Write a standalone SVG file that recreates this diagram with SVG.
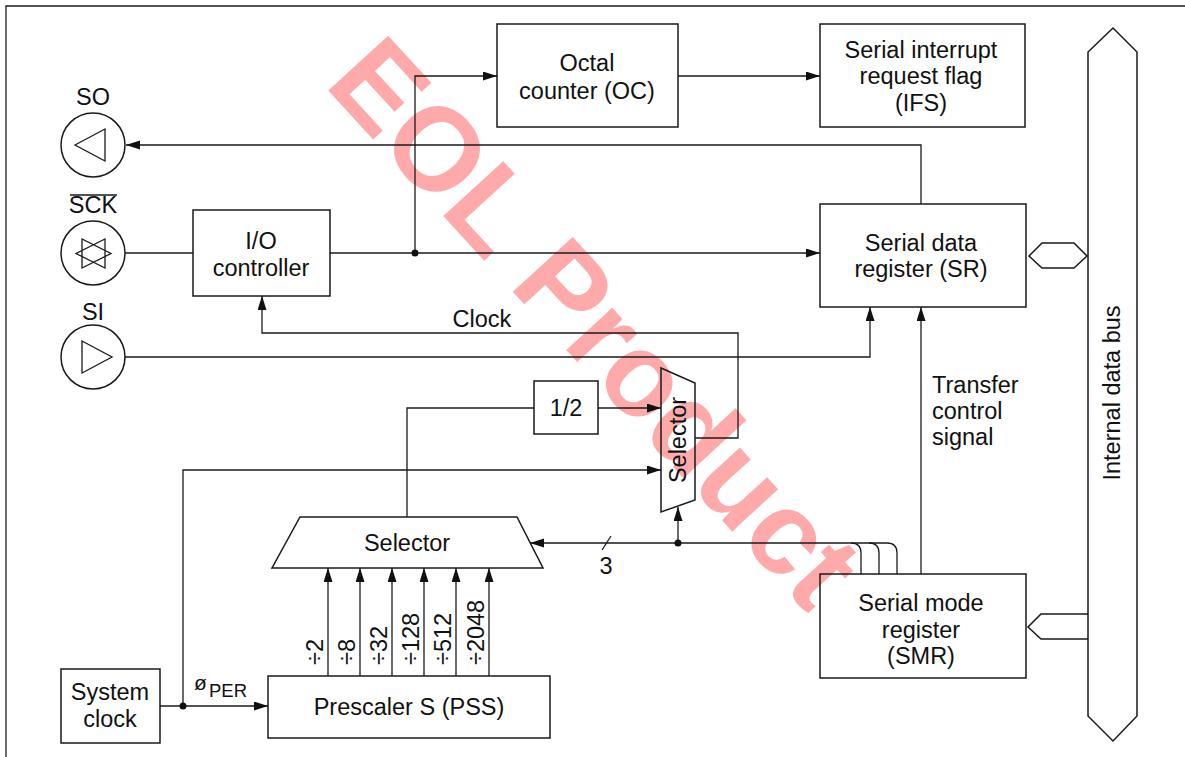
<svg xmlns="http://www.w3.org/2000/svg" width="1185" height="757" viewBox="0 0 1185 757">
<style>
.box{fill:none;stroke:#1a1a1a;stroke-width:1.5}
.ln{fill:none;stroke:#1a1a1a;stroke-width:1.3}
.t{font-family:"Liberation Sans",Arial,sans-serif;font-size:23.5px;fill:#111}
.c{text-anchor:middle}
.dot{fill:#111}
</style>
<defs>
<marker id="ar" markerUnits="userSpaceOnUse" markerWidth="15" markerHeight="10" refX="14" refY="4.5" orient="auto">
<path d="M0,0 L14,4.5 L0,9 z" fill="#111"/>
</marker>
</defs>
<rect width="1185" height="757" fill="#fff"/>
<text x="0" y="0" transform="translate(596,322) rotate(47.5)" text-anchor="middle" dominant-baseline="central" font-family="Liberation Sans,Arial,sans-serif" font-weight="bold" font-size="118" fill="#ffaaaa">EOL Product</text>
<path class="ln" d="M6,757 V6 H1185" stroke-width="2"/>

<g id="so"><circle class="box" cx="93" cy="145" r="32"/><path class="ln" d="M75,145 L105,129 L105,161 Z"/><text class="t c" x="93" y="105">SO</text></g>
<g id="sck"><circle class="box" cx="93" cy="253" r="32"/><path class="ln" d="M82,239 L82,268 L111,253.5 Z M105,239 L105,268 L76,253.5 Z"/><text class="t c" x="93" y="213">SCK</text><line class="ln" x1="70" y1="195" x2="117" y2="195"/></g>
<g id="si"><circle class="box" cx="93" cy="357" r="32"/><path class="ln" d="M82,341 L82,373 L112,357 Z"/><text class="t c" x="93" y="320">SI</text></g>

<g id="io"><rect class="box" x="193" y="210" width="137" height="86"/><text class="t c" x="261" y="249">I/O</text><text class="t c" x="261" y="276">controller</text></g>
<g id="oc"><rect class="box" x="497" y="24" width="181" height="103"/><text class="t c" x="587" y="71">Octal</text><text class="t c" x="587" y="99">counter (OC)</text></g>
<g id="ifs"><rect class="box" x="820" y="24" width="205" height="103"/><text class="t c" x="921" y="58">Serial interrupt</text><text class="t c" x="921" y="84">request flag</text><text class="t c" x="921" y="111">(IFS)</text></g>
<g id="sr"><rect class="box" x="820" y="204" width="206" height="103"/><text class="t c" x="921" y="251">Serial data</text><text class="t c" x="921" y="277">register (SR)</text></g>
<g id="smr"><rect class="box" x="820" y="574" width="206" height="104"/><text class="t c" x="921" y="611">Serial mode</text><text class="t c" x="921" y="638">register</text><text class="t c" x="921" y="664">(SMR)</text></g>
<g id="half"><rect class="box" x="534" y="381" width="64" height="53"/><text class="t c" x="566" y="416">1/2</text></g>
<g id="sel2"><path class="box" d="M661,368 L695,383 L695,500 L661,512 Z"/><text class="t c" transform="translate(686,440) rotate(-90)" x="0" y="0">Selector</text></g>
<g id="sel1"><path class="box" d="M300,517 L517,517 L543,568 L272,568 Z"/><text class="t c" x="407" y="551">Selector</text></g>
<g id="pss"><rect class="box" x="268" y="676" width="282" height="62"/><text class="t c" x="409" y="715">Prescaler S (PSS)</text></g>
<g id="sysclk"><rect class="box" x="61" y="669" width="99" height="74"/><text class="t c" x="110" y="700">System</text><text class="t c" x="110" y="727">clock</text></g>
<g id="bus"><path class="box" d="M1113,28 L1137,52 L1137,716 L1113,741 L1088,716 L1088,52 Z"/><text class="t c" transform="translate(1120,393) rotate(-90)" x="0" y="0">Internal data bus</text></g>

<g id="connectors">
<path class="ln" d="M921,204 V145 H126" marker-end="url(#ar)"/>
<path class="ln" d="M125,253 H193"/>
<path class="ln" d="M330,253 H820" marker-end="url(#ar)"/>
<path class="ln" d="M415,253 V76 H497" marker-end="url(#ar)"/>
<circle class="dot" cx="415" cy="253" r="3.5"/>
<path class="ln" d="M678,76 H820" marker-end="url(#ar)"/>
<path class="ln" d="M125,357 H870 V307" marker-end="url(#ar)"/>
<path class="ln" d="M695,438 H738 V333 H262 V296" marker-end="url(#ar)"/>
<text class="t c" x="482" y="327">Clock</text>
<path class="ln" d="M407,517 V408 H534"/>
<path class="ln" d="M598,408 H661" marker-end="url(#ar)"/>
<path class="ln" d="M183,706 V470 H661" marker-end="url(#ar)"/>
<path class="ln" d="M160,706 H268" marker-end="url(#ar)"/>
<circle class="dot" cx="183" cy="706" r="3.5"/>
<text x="194" y="690" font-family="Liberation Sans,Arial,sans-serif" font-size="21" fill="#111">ø</text>
<text x="209" y="697" font-family="Liberation Sans,Arial,sans-serif" font-size="18.5" fill="#111">PER</text>
<path class="ln" d="M328,676 V568" marker-end="url(#ar)"/>
<path class="ln" d="M360,676 V568" marker-end="url(#ar)"/>
<path class="ln" d="M392,676 V568" marker-end="url(#ar)"/>
<path class="ln" d="M424,676 V568" marker-end="url(#ar)"/>
<path class="ln" d="M456,676 V568" marker-end="url(#ar)"/>
<path class="ln" d="M489,676 V568" marker-end="url(#ar)"/>
<text class="t" transform="translate(323,665) rotate(-90)">÷2</text>
<text class="t" transform="translate(355,665) rotate(-90)">÷8</text>
<text class="t" transform="translate(387,665) rotate(-90)">÷32</text>
<text class="t" transform="translate(419,665) rotate(-90)">÷128</text>
<text class="t" transform="translate(451,665) rotate(-90)">÷512</text>
<text class="t" transform="translate(484,665) rotate(-90)">÷2048</text>
<path class="ln" d="M897,574 V553 Q897,543 887,543 H530" marker-end="url(#ar)"/>
<path class="ln" d="M879,574 V553 Q879,543 869,543"/>
<path class="ln" d="M861,574 V553 Q861,543 851,543"/>
<path class="ln" d="M602,550 L611,536"/>
<text class="t c" x="606" y="574">3</text>
<circle class="dot" cx="678" cy="543" r="3.5"/>
<path class="ln" d="M678,543 V507" marker-end="url(#ar)"/>
<path class="ln" d="M921,574 V307" marker-end="url(#ar)"/>
<text class="t" x="932" y="393">Transfer</text>
<text class="t" x="932" y="419">control</text>
<text class="t" x="932" y="445">signal</text>
<path class="box" d="M1029,256 L1042,243 L1074,243 L1087,256 L1074,268 L1042,268 Z"/>
<path class="box" d="M1088,614 L1041,614 L1028,627 L1041,639 L1088,639"/>
</g>
</svg>
